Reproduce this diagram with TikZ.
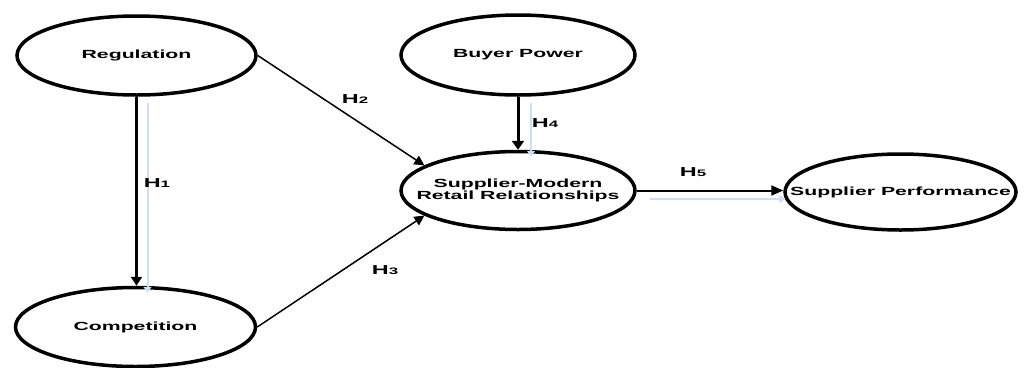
\documentclass[tikz,border=0pt]{standalone}
\usepackage{fontspec}
\setmainfont{Liberation Sans}
\usepackage{graphicx}
\usetikzlibrary{shapes.geometric,arrows.meta}
% horizontally stretched lettering
\newcommand{\widetext}[1]{\scalebox{1.8}[1]{#1}}
\newcommand{\hyp}[1]{\widetext{H{\fontsize{9.4}{10}\selectfont #1}}}
\definecolor{shade}{RGB}{208,220,242}
\begin{document}
\begin{tikzpicture}[x=1pt,y=-1pt,
  construct/.style={ellipse, draw, line width=3.5pt, inner sep=0pt},
  nametext/.style={font=\fontsize{11.8}{12.2}\selectfont\bfseries, align=center, inner sep=0pt},
  hyplabel/.style={font=\fontsize{13}{14}\selectfont\bfseries, inner sep=0pt},
  link/.style={line width=1.5pt, -{Triangle[width=10pt,length=10pt]}},
  mainlink/.style={line width=2.5pt, -{Triangle[width=11pt,length=9pt]}},
  shadowlink/.style={draw=shade, line width=2pt, -{Triangle[width=8pt,length=6pt]}}
]
\useasboundingbox (0,0) rectangle (1024,367);

% constructs
\node[construct, minimum width=239pt, minimum height=79pt,
      label={[nametext]center:\widetext{Regulation}}] (reg) at (136.5,55.5) {};
\node[construct, minimum width=240pt, minimum height=79pt,
      label={[nametext]center:\widetext{Competition}}] (comp) at (135.5,327) {};
\node[construct, minimum width=234pt, minimum height=80pt,
      label={[nametext]center:\widetext{Buyer Power}}] (bp) at (518,55) {};
\node[construct, minimum width=234pt, minimum height=78pt,
      label={[nametext]center:{\widetext{Supplier-Modern}\\\widetext{Retail Relationships}}}] (sm) at (518,190.5) {};
\node[construct, minimum width=231pt, minimum height=76pt,
      label={[nametext]center:\widetext{Supplier Performance}}] (sp) at (900.5,192) {};

% faint offset shadows of the vertical and horizontal paths
\draw[shadowlink] ([xshift=11pt,yshift=-6pt]reg.south) -- ([xshift=12pt,yshift=-7pt]comp.north);
\draw[shadowlink] ([xshift=13pt,yshift=-6pt]bp.south) -- ([xshift=13pt,yshift=-7pt]sm.north);
\draw[shadowlink] ([xshift=13pt,yshift=-8.5pt]sm.east) -- ([xshift=2pt,yshift=-7pt]sp.west);

% hypothesised paths
\draw[mainlink] (reg.south) -- (reg.south |- comp.north);
\draw[link] (reg.east) -- (sm.165);
\draw[link] (comp.east) -- (sm.195);
\draw[line width=3pt, -{Triangle[width=12pt,length=9pt]}] (bp.south) -- (sm.north);
\draw[line width=2pt, -{Triangle[width=10pt,length=12pt]}] (sm.east) -- (sm.east -| sp.west);

% path labels
\node[hyplabel] (h1) at (157,183) {\hyp{1}};
\node[hyplabel] (h2) at (355,99) {\hyp{2}};
\node[hyplabel] (h3) at (385,270) {\hyp{3}};
\node[hyplabel] (h4) at (545,123) {\hyp{4}};
\node[hyplabel] (h5) at (693,172) {\hyp{5}};
\end{tikzpicture}
\end{document}
